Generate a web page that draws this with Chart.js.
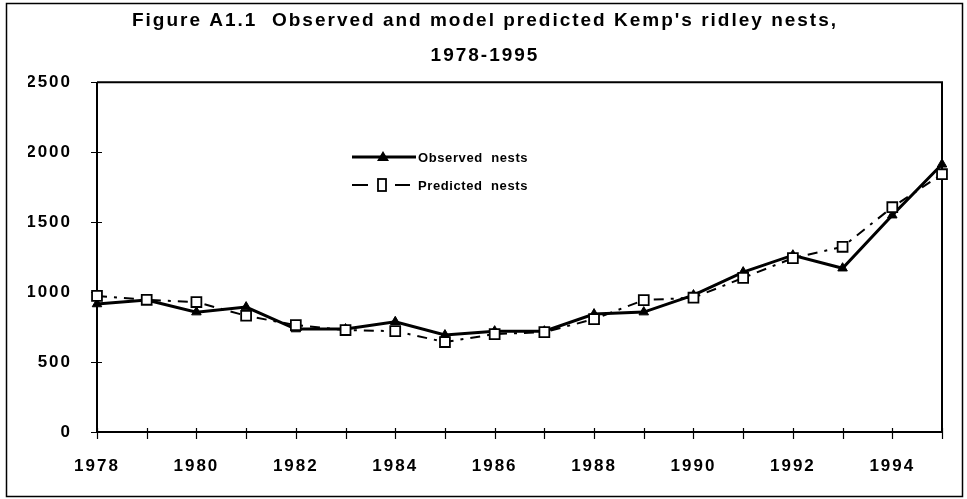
<!DOCTYPE html>
<html>
<head>
<meta charset="utf-8">
<script src="https://cdn.jsdelivr.net/npm/chart.js@4/dist/chart.umd.min.js"></script>
<style>
  html, body { margin: 0; padding: 0; background: #fff; }
  #wrap { position: relative; width: 967px; height: 499px; }
  canvas { display: block; }
</style>
</head>
<body>
<div id="wrap"><canvas id="c" width="967" height="499"></canvas></div>
<script>
const titleLines = ["Figure A1.1  Observed and model predicted Kemp's ridley nests,", "1978-1995"];
const years = ["1978","1979","1980","1981","1982","1983","1984","1985","1986","1987","1988","1989","1990","1991","1992","1993","1994","1995"];
const observedNests = [915, 943, 857, 893, 736, 736, 788, 693, 721, 721, 843, 857, 979, 1143, 1264, 1171, 1550, 1914];
const predictedNests = [973, 945, 929, 831, 764, 729, 721, 643, 700, 714, 807, 943, 960, 1102, 1243, 1324, 1607, 1843];
const yTicks = [0, 500, 1000, 1500, 2000, 2500];
const legendLabels = ["Observed  nests", "Predicted  nests"];

const FONT = "'Liberation Sans', Arial, sans-serif";

const spacingPlugin = {
  id: 'spacing',
  beforeInit(chart) { chart.ctx.letterSpacing = '2px'; },
  beforeLayout(chart) { chart.ctx.letterSpacing = '2px'; },
  beforeDraw(chart) {
    const ctx = chart.ctx;
    ctx.letterSpacing = '2px';
    ctx.save();
    ctx.fillStyle = '#fff';
    ctx.fillRect(0, 0, chart.width, chart.height);
    ctx.strokeStyle = '#000';
    ctx.lineWidth = 1.5;
    ctx.strokeRect(6.5, 3.5, 956, 493);
    ctx.restore();
  }
};

const framePlugin = {
  id: 'frame',
  beforeDatasetsDraw(chart) {
    const ctx = chart.ctx;
    const a = chart.chartArea;
    ctx.save();
    ctx.strokeStyle = '#000';
    ctx.lineWidth = 2;
    ctx.beginPath();
    ctx.moveTo(a.left, a.top); ctx.lineTo(a.right, a.top); ctx.lineTo(a.right, a.bottom);
    ctx.moveTo(a.left, a.top); ctx.lineTo(a.left, a.bottom); ctx.lineTo(a.right, a.bottom);
    ctx.stroke();
    ctx.lineWidth = 1.2;
    const xs = chart.scales.x, ys = chart.scales.y;
    ctx.beginPath();
    years.forEach((y, i) => {
      const px = Math.round(xs.getPixelForValue(i)) + 0.5;
      ctx.moveTo(px, a.bottom - 4); ctx.lineTo(px, a.bottom + 7);
    });
    yTicks.forEach(v => {
      const py = Math.round(ys.getPixelForValue(v)) + 0.5;
      ctx.moveTo(a.left - 6, py); ctx.lineTo(a.left + 5, py);
    });
    ctx.stroke();
    ctx.restore();
  },
  afterDraw(chart) {
    const ctx = chart.ctx;
    ctx.save();
    ctx.letterSpacing = '0.6px';
    ctx.font = 'bold 13px ' + FONT;
    ctx.fillStyle = '#000';
    ctx.textBaseline = 'middle';
    ctx.strokeStyle = '#000';
    let y1 = 157;
    ctx.lineWidth = 2.8;
    ctx.setLineDash([]);
    ctx.beginPath(); ctx.moveTo(352, y1); ctx.lineTo(416, y1); ctx.stroke();
    ctx.beginPath();
    ctx.moveTo(383, y1 - 6); ctx.lineTo(389, y1 + 4); ctx.lineTo(377, y1 + 4); ctx.closePath(); ctx.fill();
    ctx.fillText(legendLabels[0], 418, y1 + 1);
    let y2 = 185;
    ctx.lineWidth = 2;
    ctx.beginPath(); ctx.moveTo(352, y2); ctx.lineTo(368, y2); ctx.moveTo(395, y2); ctx.lineTo(410, y2); ctx.stroke();
    ctx.lineWidth = 1.8;
    ctx.fillStyle = '#fff';
    ctx.fillRect(378, y2 - 6, 8, 12);
    ctx.strokeRect(378, y2 - 6, 8, 12);
    ctx.fillStyle = '#000';
    ctx.fillText(legendLabels[1], 418, y2 + 1);
    ctx.restore();
  }
};

new Chart(document.getElementById('c'), {
  type: 'line',
  data: {
    labels: years,
    datasets: [
      {
        label: 'Predicted nests',
        data: predictedNests,
        borderColor: '#000',
        borderWidth: 2,
        borderDash: [10, 7, 3, 7],
        tension: 0,
        fill: false,
        pointStyle: 'rect',
        pointRadius: 7,
        pointBackgroundColor: '#fff',
        pointBorderColor: '#000',
        pointBorderWidth: 1.8
      },
      {
        label: 'Observed nests',
        data: observedNests,
        borderColor: '#000',
        borderWidth: 3,
        tension: 0,
        fill: false,
        pointStyle: 'triangle',
        pointRadius: 5.5,
        pointBackgroundColor: '#000',
        pointBorderColor: '#000',
        pointBorderWidth: 1
      }
    ]
  },
  options: {
    responsive: false,
    animation: false,
    events: [],
    layout: { padding: { left: 28, right: 25, top: 0, bottom: 0 } },
    plugins: {
      legend: { display: false },
      tooltip: { enabled: false },
      title: {
        display: true,
        text: titleLines,
        color: '#000',
        font: { family: FONT, size: 19, weight: 'bold', lineHeight: 1.85 },
        padding: { top: 3, bottom: 9 }
      }
    },
    scales: {
      x: {
        type: 'category',
        offset: false,
        grid: { display: false, drawTicks: false },
        border: { display: false },
        ticks: {
          autoSkip: false,
          maxRotation: 0,
          padding: 24,
          color: '#000',
          font: { family: FONT, size: 17, weight: 'bold' },
          callback: function(v, i) { return i % 2 === 0 ? years[i] : ''; }
        },
        afterFit(scale) { scale.height = 67; }
      },
      y: {
        min: 0,
        max: 2500,
        grid: { display: false, drawTicks: false },
        border: { display: false },
        afterBuildTicks(scale) { scale.ticks = yTicks.map(v => ({ value: v })); },
        ticks: {
          padding: 25,
          color: '#000',
          font: { family: FONT, size: 17, weight: 'bold' },
          callback: function(v) { return String(v); }
        },
        afterFit(scale) { scale.width = 69; }
      }
    }
  },
  plugins: [spacingPlugin, framePlugin]
});
</script>
</body>
</html>
